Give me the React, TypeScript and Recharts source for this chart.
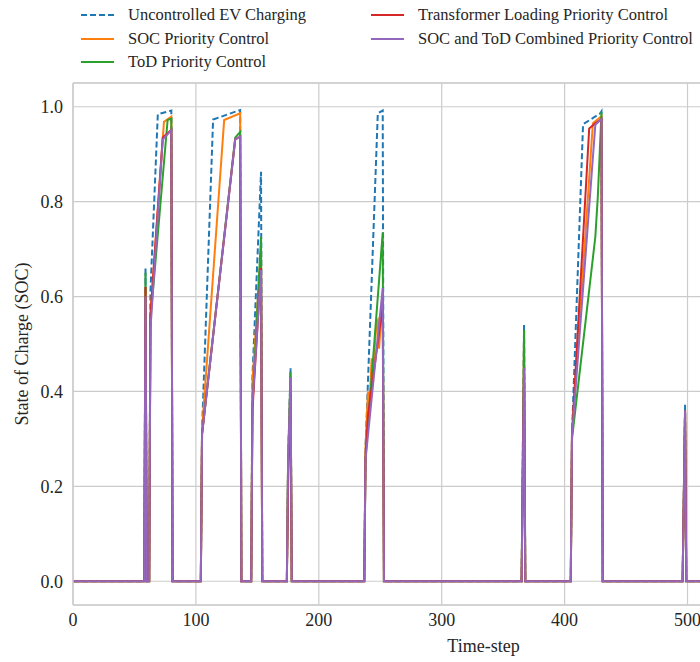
import React from 'react';
import {
  LineChart, Line, XAxis, YAxis, CartesianGrid, ReferenceLine,
} from 'recharts';

// [time-step, SOC] breakpoints
const uncontrolled: [number, number][] = [
  [0, 0], [58, 0], [59, 0.66], [60, 0], [62, 0], [63, 0.61], [69, 0.984], [80, 0.992], [81, 0],
  [104, 0], [105, 0.32], [114, 0.973], [136, 0.993], [137, 0],
  [145, 0], [146, 0.43], [153, 0.863], [154, 0],
  [174, 0], [175, 0.25], [177, 0.449], [178, 0],
  [237, 0], [238, 0.28], [248, 0.986], [252, 0.992], [253, 0],
  [365, 0], [367, 0.54], [368, 0],
  [405, 0], [406, 0.31], [415, 0.963], [429, 0.986], [430, 0.99], [431, 0],
  [496, 0], [498, 0.372], [499, 0], [668, 0],
];

const socPriority: [number, number][] = [
  [0, 0], [58, 0], [59, 0.62], [60, 0], [62, 0], [63, 0.56], [74, 0.968], [80, 0.979], [81, 0],
  [104, 0], [105, 0.32], [123, 0.972], [136, 0.986], [137, 0],
  [145, 0], [146, 0.42], [153, 0.7], [154, 0],
  [174, 0], [175, 0.25], [177, 0.43], [178, 0],
  [237, 0], [238, 0.28], [240, 0.4], [241, 0.36], [243, 0.47], [244, 0.44], [247, 0.545],
  [248, 0.55], [249, 0.49], [252, 0.6], [253, 0],
  [365, 0], [367, 0.52], [368, 0],
  [405, 0], [406, 0.31], [423, 0.965], [430, 0.98], [431, 0],
  [496, 0], [498, 0.36], [499, 0], [668, 0],
];

const todPriority: [number, number][] = [
  [0, 0], [58, 0], [59, 0.65], [60, 0], [62, 0], [63, 0.55], [77, 0.972], [80, 0.975], [81, 0],
  [104, 0], [105, 0.31], [132, 0.935], [136, 0.947], [137, 0],
  [145, 0], [146, 0.37], [153, 0.726], [154, 0],
  [174, 0], [175, 0.25], [177, 0.44], [178, 0],
  [237, 0], [238, 0.26], [252, 0.735], [253, 0],
  [365, 0], [367, 0.53], [368, 0],
  [405, 0], [406, 0.3], [425, 0.726], [427, 0.81], [430, 0.989], [431, 0],
  [496, 0], [498, 0.36], [499, 0], [668, 0],
];

const transformerPriority: [number, number][] = [
  [0, 0], [58, 0], [59, 0.62], [60, 0], [62, 0], [63, 0.56], [73, 0.935], [80, 0.951], [81, 0],
  [104, 0], [105, 0.31], [132, 0.931], [136, 0.937], [137, 0],
  [145, 0], [146, 0.36], [153, 0.66], [154, 0],
  [174, 0], [175, 0.2], [177, 0.4], [178, 0],
  [237, 0], [238, 0.26], [240, 0.35], [252, 0.58], [253, 0],
  [365, 0], [367, 0.45], [368, 0],
  [405, 0], [406, 0.31], [420, 0.954], [425, 0.965], [430, 0.974], [431, 0],
  [496, 0], [498, 0.36], [499, 0], [668, 0],
];

const combinedPriority: [number, number][] = [
  [0, 0], [58, 0], [59, 0.6], [60, 0], [62, 0], [63, 0.53], [73, 0.931], [80, 0.951], [81, 0],
  [104, 0], [105, 0.31], [132, 0.931], [136, 0.937], [137, 0],
  [145, 0], [146, 0.375], [153, 0.656], [154, 0],
  [174, 0], [175, 0.25], [177, 0.43], [178, 0],
  [237, 0], [238, 0.256], [252, 0.618], [253, 0],
  [365, 0], [367, 0.45], [368, 0],
  [405, 0], [406, 0.305], [425, 0.962], [430, 0.974], [431, 0],
  [496, 0], [498, 0.36], [499, 0], [668, 0],
];

const xTicks = [0, 100, 200, 300, 400, 500, 600];
const yTicks = [0, 0.2, 0.4, 0.6, 0.8, 1.0];

const series = [
  { name: 'Uncontrolled EV Charging', color: '#1f77b4', dashed: true, pts: uncontrolled },
  { name: 'SOC Priority Control', color: '#ff7f0e', dashed: false, pts: socPriority },
  { name: 'ToD Priority Control', color: '#2ca02c', dashed: false, pts: todPriority },
  { name: 'Transformer Loading Priority Control', color: '#d62728', dashed: false, pts: transformerPriority },
  { name: 'SOC and ToD Combined Priority Control', color: '#9467bd', dashed: false, pts: combinedPriority },
];

const FONT = '"Liberation Serif", "DejaVu Serif", serif';
const TEXT = '#262626';
const GRID = '#cccccc';

const toPoints = (pts: [number, number][]) => pts.map(([t, v]) => ({ t, v }));

function YLabel(props: any) {
  const vb = props.viewBox || {};
  const cy = (vb.y ?? 83) + (vb.height ?? 522) / 2;
  const x = 22;
  return (
    <text
      x={x}
      y={cy}
      transform={`rotate(-90, ${x}, ${cy})`}
      textAnchor="middle"
      dominantBaseline="central"
      fill={TEXT}
      fontSize={18}
      fontFamily={FONT}
    >
      State of Charge (SOC)
    </text>
  );
}

function ChartLegend() {
  return (
    <div style={{ position: 'absolute', left: 0, top: 0, width: 700, height: 80 }}>
      {series.map((s, i) => {
        const col = i < 3 ? 0 : 1;
        const row = i < 3 ? i : i - 3;
        const left = col === 0 ? 81 : 371;
        const cy = 15 + row * 23.5;
        return (
          <div key={s.name} style={{ position: 'absolute', left, top: cy - 12, height: 24, display: 'flex', alignItems: 'center', whiteSpace: 'nowrap' }}>
            <svg width={34} height={24} style={{ display: 'block' }}>
              <line x1={0} y1={12} x2={33} y2={12} stroke={s.color} strokeWidth={2} strokeDasharray={s.dashed ? '6 3' : undefined} />
            </svg>
            <span style={{ marginLeft: 13, fontFamily: FONT, fontSize: 16.5, color: TEXT, lineHeight: '24px' }}>{s.name}</span>
          </div>
        );
      })}
    </div>
  );
}

export default function App() {
  return (
    <div style={{ position: 'absolute', left: 0, top: 0, width: 700, height: 662, overflow: 'hidden', background: '#ffffff' }}>
      <LineChart width={894} height={662} margin={{ top: 83, right: 0, bottom: 0, left: 0 }}>
        <CartesianGrid stroke={GRID} strokeWidth={1.2} />
        <XAxis
          type="number"
          dataKey="t"
          domain={[0, 668]}
          ticks={xTicks}
          allowDataOverflow
          height={57}
          tickLine={false}
          tickSize={0}
          tickMargin={8}
          axisLine={{ stroke: GRID, strokeWidth: 1.4 }}
          tick={{ fill: TEXT, fontSize: 18, fontFamily: FONT }}
          label={{ value: 'Time-step', position: 'insideBottom', offset: 10, fill: TEXT, fontSize: 18, fontFamily: FONT }}
        />
        <YAxis
          type="number"
          dataKey="v"
          domain={[-0.05, 1.05]}
          ticks={yTicks}
          allowDataOverflow
          width={73}
          tickLine={false}
          tickSize={0}
          tickMargin={10}
          axisLine={{ stroke: GRID, strokeWidth: 1.4 }}
          tick={{ fill: TEXT, fontSize: 18, fontFamily: FONT }}
          tickFormatter={(v: number) => v.toFixed(1)}
          label={<YLabel />}
        />
        <ReferenceLine y={1.05} stroke={GRID} strokeWidth={1.4} />
        {series.map((s) => (
          <Line
            key={s.name}
            data={toPoints(s.pts)}
            dataKey="v"
            name={s.name}
            type="linear"
            stroke={s.color}
            strokeWidth={2}
            strokeDasharray={s.dashed ? '6 3' : undefined}
            dot={false}
            activeDot={false}
            isAnimationActive={false}
          />
        ))}
      </LineChart>
      <ChartLegend />
    </div>
  );
}
